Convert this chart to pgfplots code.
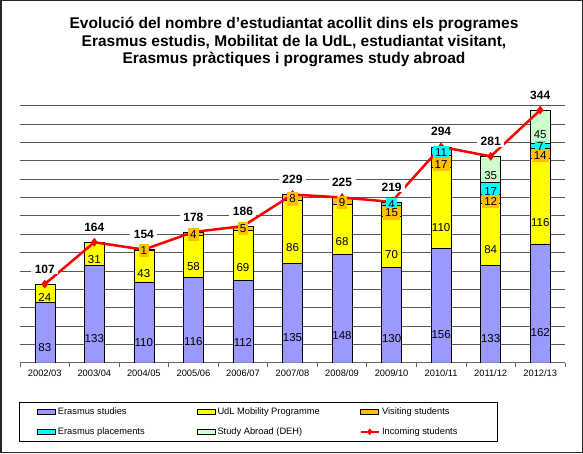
\documentclass[border=0pt]{standalone}
\usepackage{pgfplots}
\usepackage{pgfplotstable}
\pgfplotsset{compat=1.18}
\usepackage{fontspec}
\setmainfont{Liberation Sans}
\definecolor{erasmus}{HTML}{9999FF}
\definecolor{udl}{HTML}{FFFF00}
\definecolor{visit}{HTML}{FFC000}
\definecolor{place}{HTML}{00FFFF}
\definecolor{abroad}{HTML}{CCFFCC}
\definecolor{incoming}{HTML}{FF0000}

\pgfplotstableread{
x erasmus udl visit place abroad total
0 83 24 0 0 0 107
1 133 31 0 0 0 164
2 110 43 1 0 0 154
3 116 58 4 0 0 178
4 112 69 5 0 0 186
5 135 86 8 0 0 229
6 148 68 9 0 0 225
7 130 70 15 4 0 219
8 156 110 17 11 0 294
9 133 84 12 17 35 281
10 162 116 14 7 45 344
}\data

\pgfplotsset{
  common/.style={
    at={(20pt,90.3pt)}, anchor=south west,
    scale only axis, width=545pt, height=257pt,
    xmin=-0.5, xmax=10.5, ymin=0, ymax=350,
    /pgf/number format/assume math mode=true,
  },
  seglabels/.style={
    nodes near coords={\pgfmathfloatifflags{\pgfplotspointmeta}{0}{}{\pgfmathprintnumber{\pgfplotspointmeta}}},
    nodes near coords align={center},
    every node near coord/.append style={font=\fontsize{11.5}{12}\selectfont, text=black, inner xsep=2pt, inner ysep=2.5pt,
      shift={(axis direction cs:0,-\rawy/4)}},
  },
  lineleg/.style={legend image code/.code={\draw[##1, sharp plot, mark repeat=2,mark phase=2] plot coordinates {(0pt,0pt)(9pt,0pt)(18pt,0pt)};}},
  barleg/.style={legend image code/.code={\draw[##1, line width=0.6pt] (0pt,-2.5pt) rectangle (18pt,2.5pt);}},
}

\begin{document}
\begin{tikzpicture}
\useasboundingbox (0pt,0pt) rectangle (583pt,453pt);
\draw[line width=1.5pt, black!85] (0.75pt,0.75pt) rectangle (582.25pt,452.25pt);
\node[anchor=base, font=\bfseries\fontsize{15.5}{17.5}\selectfont, inner sep=0pt] at (294pt,424pt) {Evolució del nombre d'estudiantat acollit dins els programes};
\node[anchor=base, font=\bfseries\fontsize{15.5}{17.5}\selectfont, inner sep=0pt] at (294pt,406.5pt) {Erasmus estudis, Mobilitat de la UdL, estudiantat visitant,};
\node[anchor=base, font=\bfseries\fontsize{15.5}{17.5}\selectfont, inner sep=0pt] at (294pt,389pt) {Erasmus pràctiques i programes study abroad};

% bars
\begin{axis}[common,
  ybar stacked, bar width=0.404,
  ytick={25,50,...,350}, yticklabels={},
  ymajorgrids, grid style={black!65, line width=0.7pt},
  axis x line*=bottom, axis y line*=left,
  y axis line style={draw=none},
  x axis line style={-, black!60, line width=0.8pt},
  xtick={0,...,10},
  xticklabels={2002/03,2003/04,2004/05,2005/06,2006/07,2007/08,2008/09,2009/10,2010/11,2011/12,2012/13},
  xticklabel style={font=\fontsize{9.3}{10}\selectfont, yshift=-4pt},
  minor xtick={-0.5,0.5,...,10.5},
  major tick length=0pt, minor tick length=4pt, tick align=outside,
  minor tick style={black!60, line width=0.8pt},
  barleg,
  legend columns=3,
  legend cell align=left,
  legend style={at={(-0.002,-0.153)}, anchor=north west, draw=black, line width=0.8pt,
    font=\fontsize{9.3}{11}\selectfont, inner xsep=18pt, inner ysep=3pt,
    row sep=8pt,
    /tikz/every even column/.append style={column sep=1pt}},
]
\addplot[fill=erasmus, draw=black] table[x=x,y=erasmus]{\data};
\addlegendentry{\makebox[136pt][l]{Erasmus studies}}
\addplot[fill=udl, draw=black] table[x=x,y=udl]{\data};
\addlegendentry{\makebox[139pt][l]{UdL Mobility Programme}}
\addplot[fill=visit, draw=black] table[x=x,y=visit]{\data};
\addlegendentry{\makebox[95pt][l]{Visiting students}}
\addplot[fill=place, draw=black] table[x=x,y=place]{\data};
\addlegendentry{\makebox[136pt][l]{Erasmus placements}}
\addplot[fill=abroad, draw=black] table[x=x,y=abroad]{\data};
\addlegendentry{\makebox[139pt][l]{Study Abroad (DEH)}}
\addlegendimage{incoming, sharp plot, line width=2.5pt, mark=diamond*, mark size=3pt, mark options={solid, line width=0.5pt}, lineleg}
\addlegendentry{\makebox[95pt][l]{Incoming students}}
\end{axis}

% line and totals
\begin{axis}[common, hide axis]
\addplot[incoming, line width=2.5pt, mark=diamond*, mark size=4pt, mark options={solid, line width=0.5pt}] table[x=x,y=total]{\data};
\addplot[draw=none, mark=none, nodes near coords, point meta=y, nodes near coords align={center},
  every node near coord/.append style={font=\bfseries\fontsize{12}{13}\selectfont, fill=white, inner xsep=3.5pt, inner ysep=1pt, yshift=15pt}]
  table[x=x,y=total]{\data};
\end{axis}

% segment labels
\begin{axis}[common, hide axis, ybar stacked, bar width=0.404, seglabels]
\addplot[draw=none, fill=none, visualization depends on={\thisrow{erasmus}\as\rawy}] table[x=x,y=erasmus]{\data};
\addplot[draw=none, fill=none, visualization depends on={\thisrow{udl}\as\rawy}] table[x=x,y=udl]{\data};
\addplot[draw=none, fill=none, visualization depends on={\thisrow{visit}\as\rawy},
  every node near coord/.append style={fill=visit}] table[x=x,y=visit]{\data};
\addplot[draw=none, fill=none, visualization depends on={\thisrow{place}\as\rawy},
  every node near coord/.append style={fill=place}] table[x=x,y=place]{\data};
\addplot[draw=none, fill=none, visualization depends on={\thisrow{abroad}\as\rawy}] table[x=x,y=abroad]{\data};
\end{axis}
\end{tikzpicture}
\end{document}
